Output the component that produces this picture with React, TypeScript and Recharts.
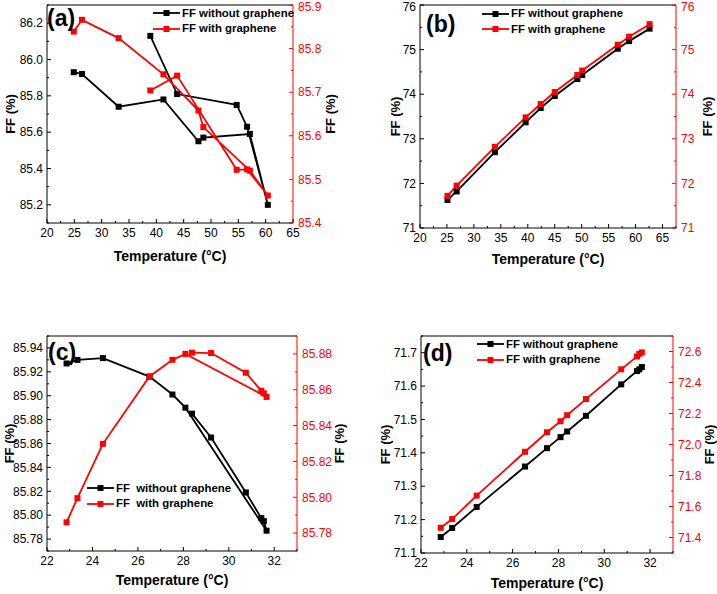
import { LineChart, Line, XAxis, YAxis, Legend, ReferenceLine, Label } from 'recharts';

const FONT = '"Liberation Sans", Arial, sans-serif';
const RED = '#ff0000';
const BLACK = '#000000';
const TICK_FS = 12;
const NAMES_TIGHT: [string, string] = ['FF without graphene', 'FF with graphene'];
const NAMES_WIDE: [string, string] = ['FF  without graphene', 'FF  with graphene'];

// (a) 25–60 °C, heating then cooling
const tempA = [24.9, 26.4, 33.1, 41.3, 47.7, 48.6, 57.1, 60.4, 56.6, 54.7, 43.8, 38.9];
const ffWithoutA = [85.93, 85.92, 85.74, 85.78, 85.55, 85.57, 85.59, 85.2, 85.63, 85.75, 85.81, 86.13];
const ffWithA = [85.839, 85.866, 85.824, 85.741, 85.658, 85.62, 85.52, 85.463, 85.523, 85.522, 85.738, 85.704];
const xTicksA = [20, 25, 30, 35, 40, 45, 50, 55, 60, 65];
const leftTicksA = [85.2, 85.4, 85.6, 85.8, 86.0, 86.2];
const rightTicksA = [85.4, 85.5, 85.6, 85.7, 85.8, 85.9];

// (b)
const tempB = [25.1, 26.8, 33.9, 39.6, 42.4, 45.0, 49.2, 50.1, 56.7, 58.8, 62.6];
const ffWithoutB = [71.63, 71.82, 72.7, 73.37, 73.69, 73.96, 74.34, 74.43, 75.02, 75.19, 75.47];
const ffWithB = [71.72, 71.95, 72.82, 73.48, 73.78, 74.05, 74.43, 74.53, 75.11, 75.29, 75.57];
const xTicksB = [20, 25, 30, 35, 40, 45, 50, 55, 60, 65];
const leftTicksB = [71, 72, 73, 74, 75, 76];
const rightTicksB = [71, 72, 73, 74, 75, 76];

// (c) 23–32 °C
const tempC = [22.86, 23.34, 24.46, 26.51, 27.52, 28.09, 31.66, 31.54, 31.43, 30.75, 29.22, 28.38];
const ffWithoutC = [85.927, 85.93, 85.9315, 85.916, 85.901, 85.89, 85.787, 85.795, 85.7975, 85.819, 85.865, 85.885];
const ffWithC = [85.786, 85.7995, 85.8298, 85.8674, 85.8767, 85.88, 85.856, 85.858, 85.8594, 85.8695, 85.8805, 85.8807];
const xTicksC = [22, 24, 26, 28, 30, 32];
const leftTicksC = [85.78, 85.8, 85.82, 85.84, 85.86, 85.88, 85.9, 85.92, 85.94];
const rightTicksC = [85.78, 85.8, 85.82, 85.84, 85.86, 85.88];

// (d)
const tempD = [22.86, 23.36, 24.43, 26.54, 27.5, 28.09, 28.38, 29.2, 30.74, 31.43, 31.53, 31.64];
const ffWithoutD = [71.148, 71.175, 71.238, 71.359, 71.414, 71.447, 71.464, 71.511, 71.605, 71.645, 71.65, 71.657];
const ffWithD = [71.463, 71.519, 71.67, 71.953, 72.079, 72.15, 72.189, 72.293, 72.485, 72.568, 72.585, 72.594];
const xTicksD = [22, 24, 26, 28, 30, 32];
const leftTicksD = [71.1, 71.2, 71.3, 71.4, 71.5, 71.6, 71.7];
const rightTicksD = [71.4, 71.6, 71.8, 72.0, 72.2, 72.4, 72.6];

type Range = [number, number];

// major ticks plus a minor tick halfway between them
const withMinor = (major: number[], domain: Range) => {
  const half = (major[1] - major[0]) / 2;
  const out: number[] = [];
  if (major[0] - half >= domain[0] - 1e-9) out.push(major[0] - half);
  major.forEach((m) => {
    out.push(m);
    if (m + half <= domain[1] + 1e-9) out.push(m + half);
  });
  return out.map((v) => Number(v.toFixed(6)));
};

const makeTick =
  (side: 'left' | 'right' | 'bottom', major: number[], digits: number, color: string, gap: number) =>
  (props: any) => {
    const { x, y, payload } = props;
    const v = payload.value as number;
    const isMajor = major.some((m) => Math.abs(m - v) < 1e-6);
    const len = isMajor ? 4 : 2;
    const label = isMajor ? v.toFixed(digits) : '';
    if (side === 'bottom') {
      const ay = y - gap;
      return (
        <g>
          <line x1={x} x2={x} y1={ay} y2={ay - len} stroke={color} />
          <text x={x} y={y} dy="0.71em" textAnchor="middle" fill={color} fontSize={TICK_FS} fontFamily={FONT}>
            {label}
          </text>
        </g>
      );
    }
    const dir = side === 'left' ? 1 : -1;
    const ax = x + dir * gap;
    // keep the topmost label inside the svg
    const baseline = Math.max(y + 0.355 * TICK_FS, 0.92 * TICK_FS);
    return (
      <g>
        <line x1={ax} x2={ax + dir * len} y1={y} y2={y} stroke={color} />
        <text
          x={x}
          y={baseline}
          textAnchor={side === 'left' ? 'end' : 'start'}
          fill={color}
          fontSize={TICK_FS}
          fontFamily={FONT}
        >
          {label}
        </text>
      </g>
    );
  };

const squareDot = (color: string) => (p: any) =>
  <rect key={p.index} x={p.cx - 3} y={p.cy - 3} width={6} height={6} fill={color} />;

const FFTitle = ({ x, y }: { x: number; y: number }) => (
  <text
    x={x}
    y={y}
    transform={`rotate(-90, ${x}, ${y})`}
    textAnchor="middle"
    dominantBaseline="central"
    fontWeight="bold"
    fontSize={13}
    fontFamily={FONT}
    fill={BLACK}
  >
    FF (%)
  </text>
);

interface PanelProps {
  left: number;
  top: number;
  width: number;
  height: number;
  plot: { x: number; y: number; w: number; h: number };
  temps: number[];
  without: number[];
  withG: number[];
  xDomain: Range;
  xTicks: number[];
  leftDomain: Range;
  leftTicks: number[];
  leftDigits: number;
  rightDomain: Range;
  rightTicks: number[];
  rightDigits: number;
  names: [string, string];
  legend: { x: number; y: number };
  titleLeftX: number;
  titleRightX: number;
  titleBottomGap: number;
}

const LW = 40;
const RW = 30;
const XH = 40;

const Panel = (p: PanelProps) => {
  const data = p.temps.map((t, i) => ({ t, without: p.without[i], withG: p.withG[i] }));
  const margin = {
    left: p.plot.x - LW,
    right: p.width - p.plot.x - p.plot.w - RW,
    top: p.plot.y,
    bottom: p.height - p.plot.y - p.plot.h - XH,
  };
  const cx = p.plot.x + p.plot.w / 2;
  const cy = p.plot.y + p.plot.h / 2;
  const axisY = p.plot.y + p.plot.h;

  const renderLegend = ({ payload }: any) => {
    const items = [...(payload ?? [])].sort((a, b) => p.names.indexOf(a.value) - p.names.indexOf(b.value));
    return (
      <div style={{ fontFamily: FONT, fontWeight: 'bold', fontSize: 11.4 }}>
        {items.map((e: any) => (
          <div key={e.value} style={{ display: 'flex', alignItems: 'center', height: 15.5 }}>
            <svg width={27} height={8}>
              <line x1={0} x2={27} y1={4} y2={4} stroke={e.color} strokeWidth={1.8} />
              <rect x={10.5} y={1} width={6} height={6} fill={e.color} />
            </svg>
            <span style={{ marginLeft: 2, whiteSpace: 'pre', lineHeight: '15.5px' }}>{e.value}</span>
          </div>
        ))}
      </div>
    );
  };

  return (
    <div style={{ position: 'absolute', left: p.left, top: p.top }}>
      <LineChart width={p.width} height={p.height} data={data} margin={margin}>
        <XAxis
          type="number"
          dataKey="t"
          domain={p.xDomain}
          ticks={withMinor(p.xTicks, p.xDomain)}
          interval={0}
          allowDataOverflow
          height={XH}
          tickSize={0}
          tickMargin={5}
          axisLine={{ stroke: BLACK }}
          tick={makeTick('bottom', p.xTicks, 0, BLACK, 5)}
        >
          <Label
            content={() => (
              <text
                x={cx}
                y={axisY + p.titleBottomGap}
                dy="0.71em"
                textAnchor="middle"
                fontWeight="bold"
                fontSize={14}
                fontFamily={FONT}
                fill={BLACK}
              >
                Temperature (°C)
              </text>
            )}
          />
        </XAxis>
        <YAxis
          yAxisId="left"
          type="number"
          domain={p.leftDomain}
          ticks={withMinor(p.leftTicks, p.leftDomain)}
          interval={0}
          allowDataOverflow
          width={LW}
          tickSize={0}
          tickMargin={4}
          axisLine={{ stroke: BLACK }}
          tick={makeTick('left', p.leftTicks, p.leftDigits, BLACK, 4)}
        >
          <Label content={() => <FFTitle x={p.titleLeftX} y={cy} />} />
        </YAxis>
        <YAxis
          yAxisId="right"
          orientation="right"
          type="number"
          domain={p.rightDomain}
          ticks={withMinor(p.rightTicks, p.rightDomain)}
          interval={0}
          allowDataOverflow
          width={RW}
          tickSize={0}
          tickMargin={5}
          axisLine={{ stroke: RED }}
          tick={makeTick('right', p.rightTicks, p.rightDigits, RED, 5)}
        >
          <Label content={() => <FFTitle x={p.titleRightX} y={cy} />} />
        </YAxis>
        <ReferenceLine yAxisId="left" y={p.leftDomain[1]} stroke={BLACK} strokeWidth={1} />
        <Legend
          layout="vertical"
          align="center"
          verticalAlign="middle"
          content={renderLegend}
          wrapperStyle={{ left: p.legend.x, top: p.legend.y, width: 220 }}
        />
        <Line
          yAxisId="left"
          dataKey="without"
          name={p.names[0]}
          type="linear"
          stroke={BLACK}
          strokeWidth={1.8}
          dot={squareDot(BLACK)}
          activeDot={false}
          isAnimationActive={false}
        />
        <Line
          yAxisId="right"
          dataKey="withG"
          name={p.names[1]}
          type="linear"
          stroke={RED}
          strokeWidth={1.8}
          dot={squareDot(RED)}
          activeDot={false}
          isAnimationActive={false}
        />
      </LineChart>
    </div>
  );
};

const letters = [
  { text: '(a)', x: 47, y: 26 },
  { text: '(b)', x: 426, y: 32 },
  { text: '(c)', x: 48, y: 360 },
  { text: '(d)', x: 423, y: 361 },
];

export default function App() {
  return (
    <div style={{ position: 'absolute', left: 0, top: 0, width: 717, height: 594, background: '#fff' }}>
      <Panel
        left={0}
        top={0}
        width={358}
        height={297}
        plot={{ x: 47, y: 5, w: 246, h: 218 }}
        temps={tempA}
        without={ffWithoutA}
        withG={ffWithA}
        xDomain={[20, 65]}
        xTicks={xTicksA}
        leftDomain={[85.1, 86.3]}
        leftTicks={leftTicksA}
        leftDigits={1}
        rightDomain={[85.4, 85.9]}
        rightTicks={rightTicksA}
        rightDigits={1}
        names={NAMES_TIGHT}
        legend={{ x: 153, y: 5.5 }}
        titleLeftX={10}
        titleRightX={330}
        titleBottomGap={28}
      />
      <Panel
        left={358}
        top={0}
        width={359}
        height={297}
        plot={{ x: 62, y: 5, w: 256, h: 223 }}
        temps={tempB}
        without={ffWithoutB}
        withG={ffWithB}
        xDomain={[20, 67.5]}
        xTicks={xTicksB}
        leftDomain={[71, 76]}
        leftTicks={leftTicksB}
        leftDigits={0}
        rightDomain={[71, 76]}
        rightTicks={rightTicksB}
        rightDigits={0}
        names={NAMES_TIGHT}
        legend={{ x: 124, y: 6 }}
        titleLeftX={37}
        titleRightX={349}
        titleBottomGap={26}
      />
      <Panel
        left={0}
        top={297}
        width={358}
        height={297}
        plot={{ x: 47, y: 39, w: 250, h: 215 }}
        temps={tempC}
        without={ffWithoutC}
        withG={ffWithC}
        xDomain={[22, 33]}
        xTicks={xTicksC}
        leftDomain={[85.77, 85.95]}
        leftTicks={leftTicksC}
        leftDigits={2}
        rightDomain={[85.77, 85.89]}
        rightTicks={rightTicksC}
        rightDigits={2}
        names={NAMES_WIDE}
        legend={{ x: 87, y: 183.5 }}
        titleLeftX={9}
        titleRightX={339}
        titleBottomGap={24}
      />
      <Panel
        left={358}
        top={297}
        width={359}
        height={297}
        plot={{ x: 63, y: 39, w: 252, h: 217 }}
        temps={tempD}
        without={ffWithoutD}
        withG={ffWithD}
        xDomain={[22, 33]}
        xTicks={xTicksD}
        leftDomain={[71.1, 71.75]}
        leftTicks={leftTicksD}
        leftDigits={1}
        rightDomain={[71.3, 72.7]}
        rightTicks={rightTicksD}
        rightDigits={1}
        names={NAMES_TIGHT}
        legend={{ x: 119, y: 39.5 }}
        titleLeftX={27}
        titleRightX={351}
        titleBottomGap={25}
      />
      <svg
        width={717}
        height={594}
        style={{ position: 'absolute', left: 0, top: 0, pointerEvents: 'none' }}
      >
        {letters.map((l) => (
          <text key={l.text} x={l.x} y={l.y} fontSize={23} fontWeight="bold" fontFamily={FONT} fill={BLACK}>
            {l.text}
          </text>
        ))}
      </svg>
    </div>
  );
}
